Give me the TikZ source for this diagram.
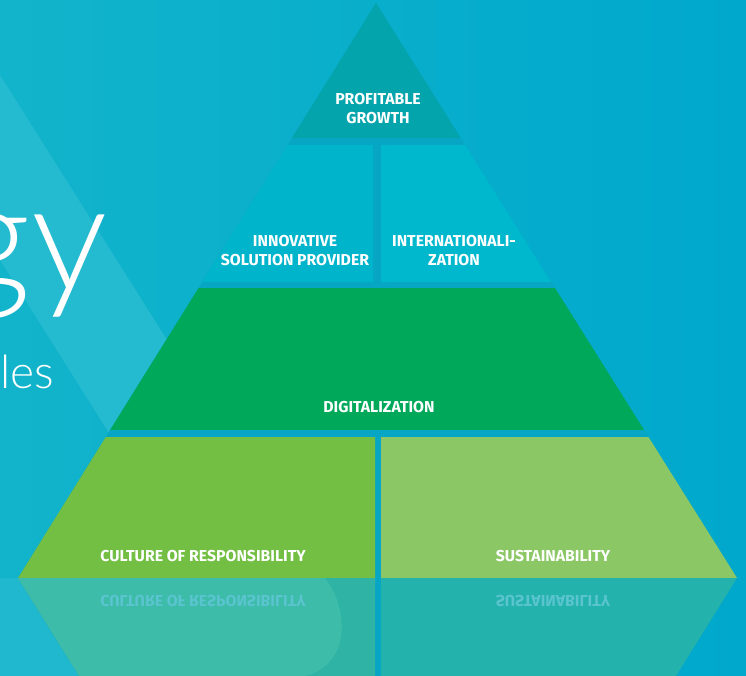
\documentclass[tikz,border=0pt]{standalone}
\usepackage{fontspec}
\setsansfont{Fira Sans}
\newfontfamily\titlefont{Lato Light}
\usetikzlibrary{calc}
\definecolor{bgtop}{HTML}{00A8CC}
\definecolor{bglow}{HTML}{12B4CB}
\definecolor{bandcol}{HTML}{24BACF}
\definecolor{gapcol}{HTML}{08A6C5}
\definecolor{topcol}{HTML}{03A4AB}
\definecolor{innocol}{HTML}{00B4CB}
\definecolor{intcol}{HTML}{00B8CD}
\definecolor{digcol}{HTML}{00A859}
\definecolor{culcol}{HTML}{72BF44}
\definecolor{suscol}{HTML}{8BC765}
\definecolor{reflleft}{HTML}{2EB3A4}
\definecolor{refllight}{HTML}{3DBCAA}
\definecolor{reflright}{HTML}{24B2AC}
\definecolor{refltext}{HTML}{5AC4CF}
\tikzset{
  tierlabel/.style={font=\sffamily\bfseries\fontsize{15.8}{19}\selectfont,
    text=white,align=center,inner sep=0pt},
  refllabel/.style={tierlabel,text=refltext},
}
\begin{document}
\begin{tikzpicture}[x=1pt,y=-1pt]
  \useasboundingbox (0,0) rectangle (746,676);
  % background
  \shade[left color=bglow,right color=bgtop] (0,0) rectangle (746,676);
  \fill[bandcol] (0,75) -- (379,676) -- (262,676) -- (0,260) -- cycle;
  \fill[bandcol!70!bglow] (0,578) -- (18,578) -- (79,676) -- (0,676) -- cycle;
  % pyramid outline
  \coordinate (apex) at (376,3);
  \coordinate (bl) at (18,578);
  \coordinate (br) at (737,578);
  \coordinate (t1l) at ($(apex)!0.2348!(bl)$);
  \coordinate (t1r) at ($(apex)!0.2348!(br)$);
  \coordinate (t2l) at ($(apex)!0.2470!(bl)$);
  \coordinate (t2r) at ($(apex)!0.2470!(br)$);
  \coordinate (b2l) at ($(apex)!0.4852!(bl)$);
  \coordinate (b2r) at ($(apex)!0.4852!(br)$);
  \coordinate (t3l) at ($(apex)!0.4957!(bl)$);
  \coordinate (t3r) at ($(apex)!0.4957!(br)$);
  \coordinate (b3l) at ($(apex)!0.7426!(bl)$);
  \coordinate (b3r) at ($(apex)!0.7426!(br)$);
  \coordinate (t4l) at ($(apex)!0.7548!(bl)$);
  \coordinate (t4r) at ($(apex)!0.7548!(br)$);
  % tiers
  \fill[gapcol] (apex) -- (br) -- (bl) -- cycle;
  \fill[topcol] (apex) -- (t1r) -- (t1l) -- cycle;
  \fill[innocol] (t2l) -- (373,145) -- (373,282) -- (b2l) -- cycle;
  \fill[intcol] (381,145) -- (t2r) -- (b2r) -- (381,282) -- cycle;
  \fill[digcol] (t3l) -- (t3r) -- (b3r) -- (b3l) -- cycle;
  \fill[culcol] (t4l) -- (375,437) -- (375,578) -- (bl) -- cycle;
  \fill[suscol] (381,437) -- (t4r) -- (br) -- (381,578) -- cycle;
  % reflection
  \fill[gapcol] (bl) -- (br) -- (676,676) -- (79,676) -- cycle;
  \fill[reflleft] (bl) -- (375,578) -- (375,676) -- (79,676) -- cycle;
  \fill[refllight] (bl) -- (325,578) .. controls (350,610) and (350,665) .. (305,676)
    -- (79,676) -- cycle;
  \fill[reflright] (381,578) -- (br) -- (676,676) -- (381,676) -- cycle;
  % labels
  \node[tierlabel] (growth) at (378,109) {PROFITABLE\\GROWTH};
  \node[tierlabel] (inno) at (295,251) {INNOVATIVE\\SOLUTION PROVIDER};
  \node[tierlabel] (inter) at (454,251) {INTERNATIONALI-\\ZATION};
  \node[tierlabel] (digi) at (379,407) {DIGITALIZATION};
  \node[tierlabel] (culture) at (203,556) {CULTURE OF RESPONSIBILITY};
  \node[tierlabel] (sustain) at (553,556) {SUSTAINABILITY};
  \node[refllabel] (cultureref) at (203,601) {\scalebox{1}[-1]{CULTURE OF RESPONSIBILITY}};
  \node[refllabel] (sustainref) at (553,601) {\scalebox{1}[-1]{SUSTAINABILITY}};
  % title fragments
  \node[anchor=base east,inner sep=0pt,text=white,font=\titlefont\fontsize{152}{152}\selectfont]
    (gy) at (108,290) {gy};
  \node[anchor=base east,inner sep=0pt,text=white,font=\titlefont\fontsize{46}{46}\selectfont]
    (les) at (54,388) {les};
\end{tikzpicture}
\end{document}
